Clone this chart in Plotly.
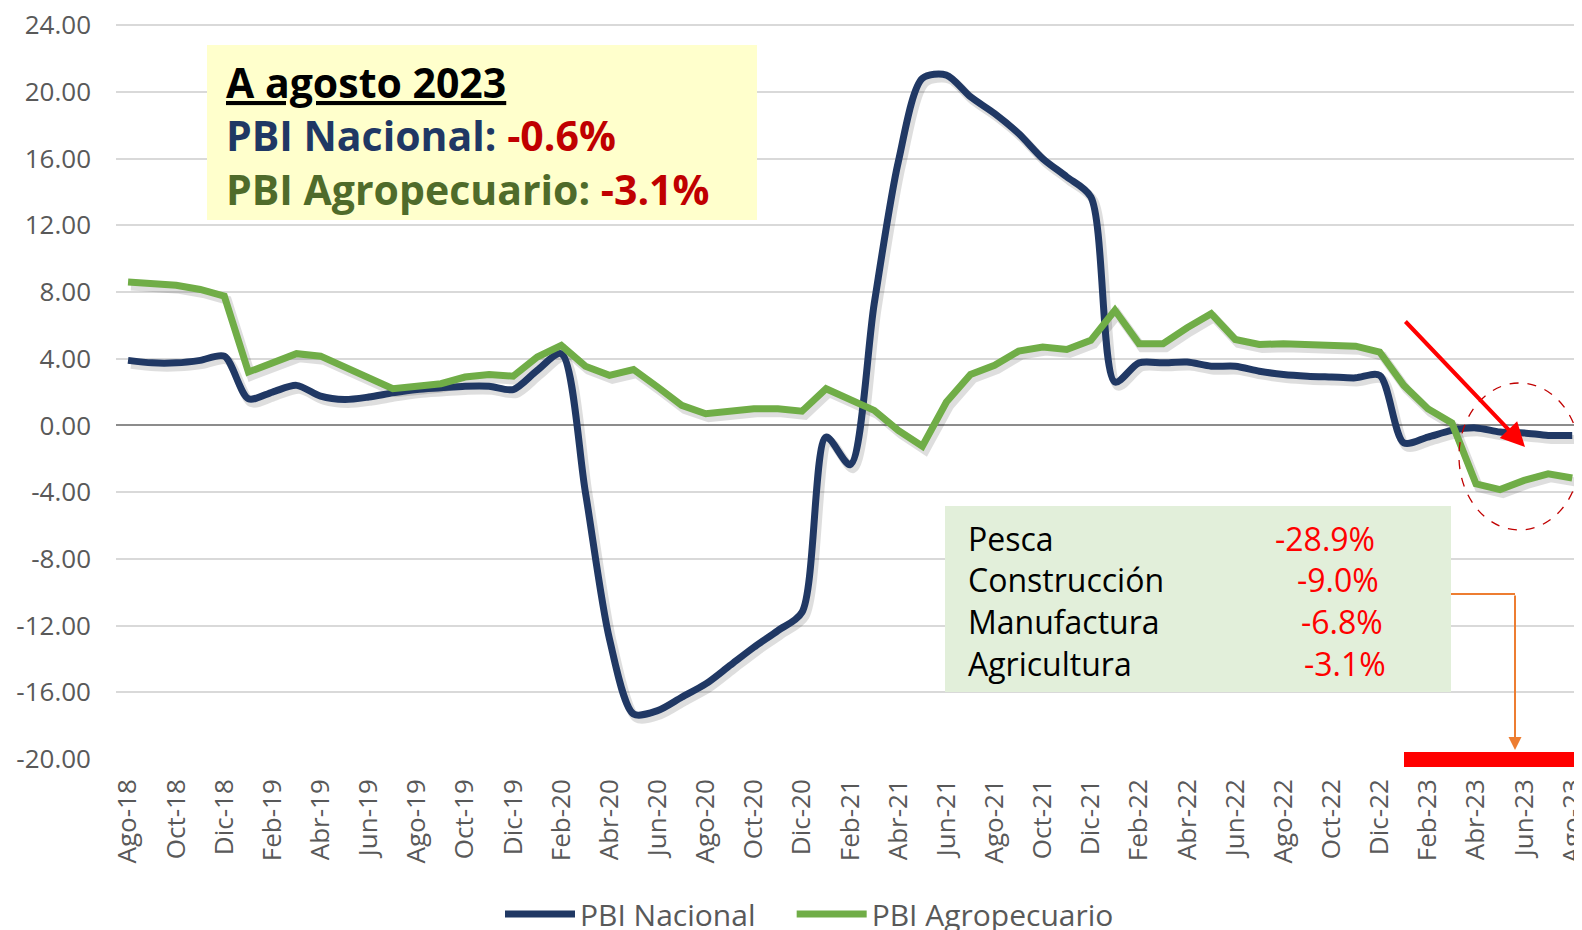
import plotly.graph_objects as go

months = ["Ago-18","Sep-18","Oct-18","Nov-18","Dic-18","Ene-19","Feb-19","Mar-19","Abr-19","May-19",
          "Jun-19","Jul-19","Ago-19","Sep-19","Oct-19","Nov-19","Dic-19","Ene-20","Feb-20","Mar-20",
          "Abr-20","May-20","Jun-20","Jul-20","Ago-20","Sep-20","Oct-20","Nov-20","Dic-20","Ene-21",
          "Feb-21","Mar-21","Abr-21","May-21","Jun-21","Jul-21","Ago-21","Sep-21","Oct-21","Nov-21",
          "Dic-21","Ene-22","Feb-22","Mar-22","Abr-22","May-22","Jun-22","Jul-22","Ago-22","Sep-22",
          "Oct-22","Nov-22","Dic-22","Ene-23","Feb-23","Mar-23","Abr-23","May-23","Jun-23","Jul-23",
          "Ago-23"]

pbi_nacional = [3.9, 3.75, 3.75, 3.9, 4.15, 1.6, 2.0, 2.4, 1.75, 1.55,
                1.7, 1.95, 2.15, 2.25, 2.35, 2.35, 2.15, 3.3, 4.3, -4.0,
                -12.8, -17.3, -17.1, -16.3, -15.5, -14.4, -13.3, -12.3, -11.2, -0.7,
                -2.35, 7.3, 15.8, 20.8, 21.0, 19.7, 18.7, 17.5, 16.0, 14.9,
                13.7, 2.6, 3.75, 3.75, 3.8, 3.55, 3.55, 3.25, 3.05, 2.95,
                2.9, 2.85, 3.0, -1.05, -0.7, -0.3, -0.15, -0.4, -0.45, -0.6,
                -0.6]

pbi_agro = [8.6, 8.5, 8.4, 8.15, 7.75, 3.2, 3.8, 4.3, 4.15, 3.5,
            2.85, 2.2, 2.35, 2.5, 2.9, 3.05, 2.95, 4.1, 4.8, 3.55,
            3.0, 3.35, 2.3, 1.2, 0.7, 0.85, 1.0, 1.0, 0.85, 2.2,
            1.55, 0.9, -0.3, -1.25, 1.4, 3.05, 3.6, 4.45, 4.7, 4.55,
            5.1, 6.9, 4.9, 4.9, 5.85, 6.7, 5.15, 4.85, 4.9, 4.85,
            4.9, 4.75, 4.4, 2.4, 1.0, 0.15, -3.5, -3.85, -3.3, -2.9,
            -3.15]

y_ticks = [24, 20, 16, 12, 8, 4, 0, -4, -8, -12, -16, -20]
y_ticktext = [f"{v:.2f}" for v in y_ticks]

sectors = ["Pesca", "Construcción", "Manufactura", "Agricultura"]
sector_vals = ["-28.9%", "-9.0%", "-6.8%", "-3.1%"]

# ---- layout geometry (window pixels; page body has an 8px margin) ----
OFF = 8
WIN_W, WIN_H = 1582, 930
FW, FH = WIN_W - OFF, WIN_H - OFF
PLOT_L, PLOT_T, PLOT_B = 116, 24, 759          # plot area in window pixels
L, T = PLOT_L - OFF, PLOT_T - OFF
B = FH - (PLOT_B - OFF)
PW = FW - L
PH = FH - T - B
YPX = 16.68
YMIN = -20
YMAX = YMIN + PH / YPX
MONTH_PX = 24.07
XR = [-0.5, -0.5 + PW / MONTH_PX]

def px(x):
    return (x - PLOT_L) / PW

def py(y):
    return (PLOT_B - y) / PH

NAVY = "#203864"
GREEN = "#70AD47"
FONT = "Open Sans"
GRAY = "#595959"
NBSP = "\u00a0"

fig = go.Figure()

# soft shadows (base axes), main lines on overlay axes
sx, sy = 3, 4
fig.add_trace(go.Scatter(x=months, y=pbi_nacional, mode="lines", xaxis="x", yaxis="y",
                         line=dict(color="rgba(0,0,0,0.13)", width=9, shape="spline", smoothing=0.8),
                         showlegend=False, hoverinfo="skip"))
fig.add_trace(go.Scatter(x=months, y=pbi_agro, mode="lines", xaxis="x", yaxis="y",
                         line=dict(color="rgba(0,0,0,0.13)", width=9),
                         showlegend=False, hoverinfo="skip"))

fig.add_trace(go.Scatter(x=months, y=pbi_nacional, mode="lines",
                         name="PBI Nacional" + NBSP * 4,
                         xaxis="x2", yaxis="y2",
                         line=dict(color=NAVY, width=7, shape="spline", smoothing=0.8)))
fig.add_trace(go.Scatter(x=months, y=pbi_agro, mode="lines", name="PBI Agropecuario",
                         xaxis="x2", yaxis="y2",
                         line=dict(color=GREEN, width=7)))

shadow_xr = [XR[0] - sx / MONTH_PX, XR[1] - sx / MONTH_PX]
shadow_yr = [YMIN + sy / YPX, YMAX + sy / YPX]

fig.update_layout(
    width=FW, height=FH,
    margin=dict(l=L, r=0, t=T, b=B, pad=0, autoexpand=False),
    paper_bgcolor="white", plot_bgcolor="white",
    font=dict(family=FONT, color=GRAY),
    xaxis=dict(type="category", range=shadow_xr, showgrid=False, showticklabels=False,
               zeroline=False, showline=False, categoryorder="array", categoryarray=months,
               automargin=False),
    yaxis=dict(range=shadow_yr, showgrid=False, showticklabels=False, zeroline=False,
               automargin=False),
    xaxis2=dict(type="category", overlaying="x", range=XR, categoryorder="array",
                categoryarray=months, tickmode="array",
                tickvals=months[::2], ticktext=months[::2], tickangle=-90,
                tickfont=dict(size=26, color=GRAY, family=FONT),
                ticklabelstandoff=14, showgrid=False, showline=False, anchor="y2",
                automargin=False, ticklabeloverflow="allow"),
    yaxis2=dict(overlaying="y", range=[YMIN, YMAX], tickmode="array", tickvals=y_ticks,
                ticktext=y_ticktext, tickfont=dict(size=26, color=GRAY, family=FONT),
                showgrid=True, gridcolor="#D9D9D9", gridwidth=2,
                zeroline=True, zerolinecolor="#8C8C8C", zerolinewidth=2,
                ticklabelstandoff=24, anchor="x2", side="left", automargin=False,
                ticklabeloverflow="allow"),
    legend=dict(orientation="h", x=px(500), y=py(914), xanchor="left", yanchor="middle",
                font=dict(size=30, color=GRAY, family=FONT), itemwidth=70,
                bgcolor="rgba(0,0,0,0)"),
    showlegend=True,
)

shapes = []
annotations = []

# yellow summary box
shapes.append(dict(type="rect", xref="paper", yref="paper", x0=px(207), x1=px(757),
                   y0=py(220), y1=py(45), fillcolor="#FFFFCC", line=dict(width=0), layer="above"))
annotations.append(dict(xref="paper", yref="paper", x=px(224), y=py(135), xanchor="left",
                        yanchor="middle", align="left", showarrow=False,
                        text="<b><u><span style='color:black'>A agosto 2023</span></u></b><br>"
                             "<b><span style='color:#1F3864'>PBI Nacional: </span>"
                             "<span style='color:#C00000'>-0.6%</span></b><br>"
                             "<b><span style='color:#4F6B2A'>PBI Agropecuario: </span>"
                             "<span style='color:#C00000'>-3.1%</span></b>",
                        font=dict(size=41, family=FONT, color="black")))

# green sector box
shapes.append(dict(type="rect", xref="paper", yref="paper", x0=px(945), x1=px(1451),
                   y0=py(692), y1=py(506), fillcolor="#E2EFDA", line=dict(width=0), layer="above"))
name_y = [538, 579, 621, 663]
val_x = [1273, 1295, 1299, 1302]
for s, v, yy, vx in zip(sectors, sector_vals, name_y, val_x):
    annotations.append(dict(xref="paper", yref="paper", x=px(966), y=py(yy), xanchor="left",
                            yanchor="middle", showarrow=False, text=s,
                            font=dict(size=32, color="black", family=FONT)))
    annotations.append(dict(xref="paper", yref="paper", x=px(vx), y=py(yy), xanchor="left",
                            yanchor="middle", showarrow=False, text=v,
                            font=dict(size=32, color="#FF0000", family=FONT)))

# orange connector
shapes.append(dict(type="line", xref="paper", yref="paper", x0=px(1451), x1=px(1515),
                   y0=py(594), y1=py(594), line=dict(color="#ED7D31", width=2), layer="above"))
annotations.append(dict(xref="paper", yref="paper", x=px(1515), y=py(750), ax=0, ay=-156,
                        axref="pixel", ayref="pixel", text="", showarrow=True,
                        arrowhead=2, arrowsize=1.3, arrowwidth=2, arrowcolor="#ED7D31"))

# red bar at bottom right
shapes.append(dict(type="rect", xref="paper", yref="paper", x0=px(1404), x1=px(1600),
                   y0=py(767), y1=py(752), fillcolor="#FF0000", line=dict(width=0), layer="above"))

# red arrow
annotations.append(dict(xref="paper", yref="paper", x=px(1525), y=py(447),
                        ax=1404 - 1525, ay=320 - 447, axref="pixel", ayref="pixel",
                        text="", showarrow=True, arrowhead=2, arrowsize=1.2,
                        arrowwidth=4, arrowcolor="#FF0000"))

# dashed ellipse
shapes.append(dict(type="circle", xref="paper", yref="paper", x0=px(1459), x1=px(1580),
                   y0=py(530), y1=py(383), line=dict(color="#C00000", width=1.3, dash="dash"),
                   layer="above"))

# source note (cut at bottom edge)
annotations.append(dict(xref="paper", yref="paper", x=px(-30), y=py(926), xanchor="left",
                        yanchor="top", showarrow=False, text="Fuente: INEI, SIEA-MIDAGRI",
                        font=dict(size=26, color="black", family=FONT)))

fig.update_layout(shapes=shapes, annotations=annotations)

fig.write_html("out.html")
